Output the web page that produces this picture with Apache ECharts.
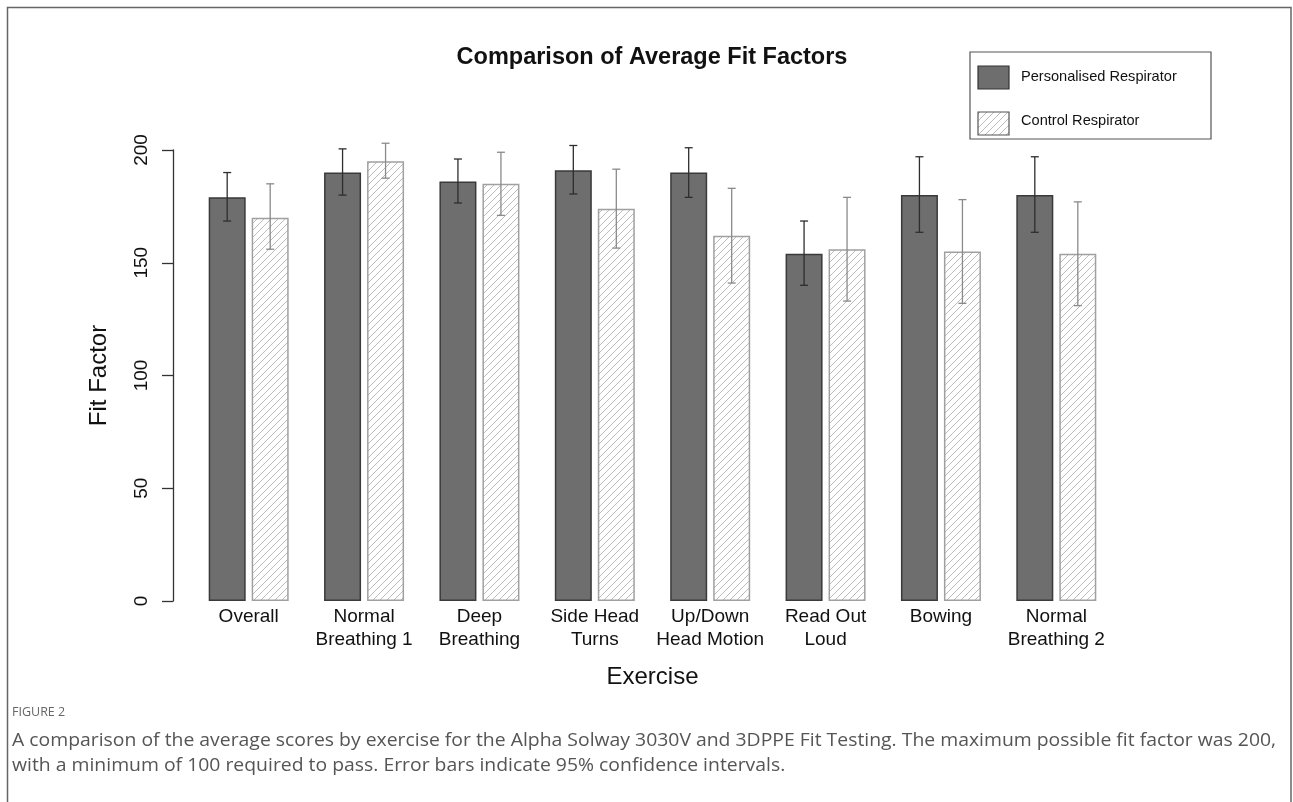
<!DOCTYPE html>
<html>
<head>
<meta charset="utf-8">
<script src="https://cdn.jsdelivr.net/npm/echarts@6/dist/echarts.min.js"></script>
<style>
html,body{margin:0;padding:0;background:#fff;}
#chart{width:1293px;height:802px;}
</style>
</head>
<body>
<div id="chart"></div>
<script>
// ---- data ----
var categories = ["Overall", "Normal\nBreathing 1", "Deep\nBreathing", "Side Head\nTurns", "Up/Down\nHead Motion", "Read Out\nLoud", "Bowing", "Normal\nBreathing 2"];
var personal     = [179, 190, 186, 191, 190, 154, 180, 180];
var personalLow  = [168.5, 180, 176.5, 180.5, 179, 140, 163.5, 163.5];
var personalHigh = [190, 200.5, 196, 202, 201, 168.5, 197, 197];
var control      = [170, 195, 185, 174, 162, 156, 155, 154];
var controlLow   = [156, 187.5, 171, 156.5, 141, 133, 132, 131];
var controlHigh  = [185, 203, 199, 191.5, 183, 179, 178, 177];
var yTicks = [0, 50, 100, 150, 200];
var seriesNames = ["Personalised Respirator", "Control Respirator"];

// ---- styles ----
var FONT = "'Liberation Sans', Arial, sans-serif";
var CAP_FONT = '"Open Sans", "Noto Sans", sans-serif';
var BAR_W = 37, BAR_GAP_PX = 6;
var OFFSET = (BAR_W + BAR_GAP_PX) / 2;

function makeHatch() {
  var s = 7;
  var c = document.createElement('canvas');
  c.width = s; c.height = s;
  var ctx = c.getContext('2d');
  ctx.fillStyle = '#ffffff';
  ctx.fillRect(0, 0, s, s);
  ctx.strokeStyle = '#bcbcbc';
  ctx.lineWidth = 1;
  ctx.beginPath();
  ctx.moveTo(-1, s + 1); ctx.lineTo(s + 1, -1);
  ctx.moveTo(-1, 1); ctx.lineTo(1, -1);
  ctx.moveTo(s - 1, s + 1); ctx.lineTo(s + 1, s - 1);
  ctx.stroke();
  return c;
}
var hatch = { image: makeHatch(), repeat: 'repeat' };
var hatchG = { type: 'pattern', image: makeHatch(), repeat: 'repeat' };

function errData(lo, hi) {
  return lo.map(function (v, i) { return [i, v, hi[i]]; });
}
function errRender(offset, color) {
  return function (params, api) {
    var i = api.value(0);
    var p1 = api.coord([i, api.value(1)]);
    var p2 = api.coord([i, api.value(2)]);
    var x = p1[0] + offset;
    var cap = 4;
    var st = { stroke: color, lineWidth: 1.3 };
    return {
      type: 'group',
      children: [
        { type: 'line', shape: { x1: x, y1: p1[1], x2: x, y2: p2[1] }, style: st },
        { type: 'line', shape: { x1: x - cap, y1: p1[1], x2: x + cap, y2: p1[1] }, style: st },
        { type: 'line', shape: { x1: x - cap, y1: p2[1], x2: x + cap, y2: p2[1] }, style: st }
      ]
    };
  };
}

var chart = echarts.init(document.getElementById('chart'), null, { renderer: 'canvas' });
chart.setOption({
  backgroundColor: '#ffffff',
  animation: false,
  grid: { left: 191, right: 179, top: 150, bottom: 201 },
  xAxis: {
    type: 'category',
    data: categories,
    axisLine: { show: false },
    axisTick: { show: false },
    axisLabel: { interval: 0, margin: 4, fontSize: 19, lineHeight: 23, color: '#111', fontFamily: FONT },
    name: 'Exercise',
    nameLocation: 'middle',
    nameGap: 64,
    nameTextStyle: { fontSize: 24, color: '#111', fontFamily: FONT }
  },
  yAxis: {
    type: 'value',
    min: 0, max: 200, interval: 50,
    offset: 18,
    splitLine: { show: false },
    axisLine: { show: true, lineStyle: { color: '#333', width: 1.3 } },
    axisTick: { show: true, length: 11, lineStyle: { color: '#333', width: 1.3 } },
    axisLabel: { rotate: 90, margin: 22, fontSize: 19, color: '#111', fontFamily: FONT,
      formatter: function (v) { return yTicks.indexOf(v) >= 0 ? String(v) : ''; } },
    name: 'Fit Factor',
    nameLocation: 'middle',
    nameRotate: 90,
    nameGap: 62,
    nameTextStyle: { fontSize: 24, color: '#111', fontFamily: FONT }
  },
  series: [
    {
      name: seriesNames[0], type: 'bar', data: personal,
      barWidth: BAR_W, barGap: (BAR_GAP_PX / BAR_W * 100).toFixed(1) + '%',
      itemStyle: { color: '#6e6e6e', borderColor: '#3a3a3a', borderWidth: 1.5 }
    },
    {
      name: seriesNames[1], type: 'bar', data: control,
      barWidth: BAR_W,
      itemStyle: { color: hatch, borderColor: '#a0a0a0', borderWidth: 1.5 }
    },
    {
      type: 'custom', name: 'err1', data: errData(personalLow, personalHigh),
      renderItem: errRender(-OFFSET, '#2e2e2e'), clip: false, z: 5,
      encode: { x: 0, y: [1, 2] }
    },
    {
      type: 'custom', name: 'err2', data: errData(controlLow, controlHigh),
      renderItem: errRender(OFFSET, '#8a8a8a'), clip: false, z: 5,
      encode: { x: 0, y: [1, 2] }
    }
  ],
  graphic: [
    // figure frame
    { type: 'polyline', silent: true, shape: { points: [[7.5, 810], [7.5, 7.5], [1291, 7.5], [1291, 810]] },
      style: { stroke: '#666', lineWidth: 1.5, fill: null } },
    // title
    { type: 'text', x: 652, y: 58, style: { text: 'Comparison of Average Fit Factors', font: 'bold 23.5px ' + FONT,
      fill: '#111', align: 'center', verticalAlign: 'middle' } },
    // legend
    { type: 'rect', shape: { x: 970, y: 52, width: 241, height: 87 }, style: { fill: '#fff', stroke: '#555', lineWidth: 1.2 } },
    { type: 'rect', shape: { x: 978, y: 66, width: 31, height: 23 }, style: { fill: '#6e6e6e', stroke: '#333', lineWidth: 1.2 } },
    { type: 'rect', shape: { x: 978, y: 112, width: 31, height: 23 }, style: { fill: hatchG, stroke: '#555', lineWidth: 1.2 } },
    { type: 'text', x: 1021, y: 77, style: { text: seriesNames[0], font: '14.6px ' + FONT, fill: '#111', verticalAlign: 'middle' } },
    { type: 'text', x: 1021, y: 121, style: { text: seriesNames[1], font: '14.6px ' + FONT, fill: '#111', verticalAlign: 'middle' } },
    // caption
    { type: 'text', x: 12, y: 712, style: { text: 'FIGURE 2', font: '12.5px ' + CAP_FONT, fill: '#666', verticalAlign: 'middle' } },
    { type: 'text', x: 12, y: 741, scaleX: 1.02, style: { text: 'A comparison of the average scores by exercise for the Alpha Solway 3030V and 3DPPE Fit Testing. The maximum possible fit factor was 200,',
      font: '19px ' + CAP_FONT, fill: '#555', verticalAlign: 'middle' } },
    { type: 'text', x: 12, y: 766, scaleX: 1.02, style: { text: 'with a minimum of 100 required to pass. Error bars indicate 95% confidence intervals.',
      font: '19px ' + CAP_FONT, fill: '#555', verticalAlign: 'middle' } }
  ]
});
</script>
</body>
</html>
